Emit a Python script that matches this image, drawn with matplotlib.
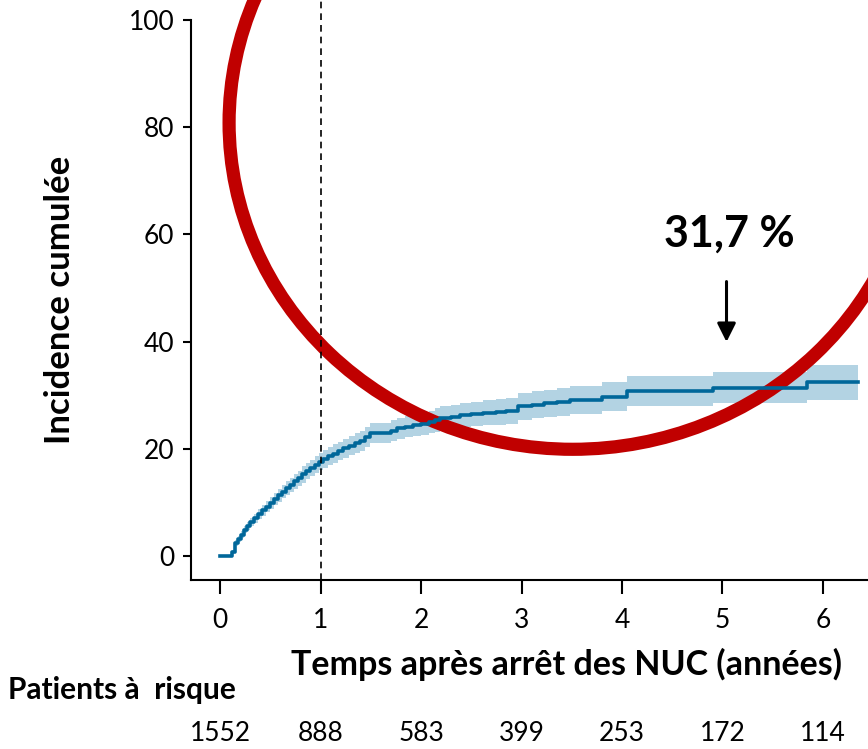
import matplotlib.pyplot as plt
from matplotlib.patches import Ellipse

plt.rcParams['font.family'] = ['Lato', 'DejaVu Sans']

# courbe d'incidence cumulée
temps = [0, 0.12, 0.15, 0.18, 0.21, 0.24, 0.27, 0.30, 0.34, 0.38,
         0.42, 0.46, 0.50, 0.54, 0.58, 0.62, 0.66, 0.70, 0.74, 0.78,
         0.82, 0.86, 0.90, 0.94, 0.98, 1.02, 1.07, 1.12, 1.17, 1.22,
         1.28, 1.34, 1.39, 1.44, 1.49, 1.66, 1.70, 1.76, 1.84, 1.92,
         2.00, 2.08, 2.14, 2.19, 2.30, 2.39, 2.50, 2.62, 2.75, 2.85,
         2.97, 3.10, 3.22, 3.35, 3.48, 3.80, 4.05, 4.91, 5.84, 6.35]
incidence = [0, 0.8, 2.4, 3.2, 4.0, 4.9, 5.6, 6.3, 7.0, 7.8,
             8.5, 9.2, 9.9, 10.6, 11.3, 12.0, 12.7, 13.3, 13.9, 14.5,
             15.2, 15.8, 16.4, 17.0, 17.6, 18.1, 18.6, 19.1, 19.6, 20.1,
             20.6, 21.1, 21.5, 22.2, 22.9, 22.9, 23.4, 23.8, 24.1, 24.4,
             24.6, 25.0, 25.4, 25.7, 26.0, 26.3, 26.5, 26.7, 26.9, 27.1,
             27.9, 28.2, 28.5, 28.8, 29.1, 29.7, 30.7, 31.3, 32.4, 32.4]
borne_inf = [0, 0.5, 1.9, 2.6, 3.3, 4.2, 4.8, 5.5, 6.1, 6.9,
             7.5, 8.2, 8.8, 9.5, 10.1, 10.8, 11.4, 12.0, 12.5, 13.1,
             13.7, 14.3, 14.9, 15.4, 16.0, 16.5, 16.9, 17.4, 17.9, 18.3,
             18.8, 19.3, 19.6, 20.3, 21.0, 21.0, 21.4, 21.8, 22.1, 22.3,
             22.5, 22.9, 23.2, 23.5, 23.8, 24.0, 24.2, 24.4, 24.5, 24.7,
             25.4, 25.7, 26.0, 26.2, 26.5, 27.0, 27.9, 28.5, 29.1, 29.1]
borne_sup = [0, 1.1, 2.9, 3.8, 4.7, 5.6, 6.4, 7.1, 7.9, 8.7,
             9.5, 10.2, 11.0, 11.7, 12.5, 13.2, 14.0, 14.6, 15.3, 15.9,
             16.7, 17.3, 17.9, 18.6, 19.2, 19.7, 20.3, 20.8, 21.3, 21.9,
             22.4, 22.9, 23.4, 24.1, 24.8, 24.8, 25.4, 25.8, 26.1, 26.5,
             26.7, 27.1, 27.6, 27.9, 28.2, 28.6, 28.8, 29.0, 29.3, 29.5,
             30.4, 30.7, 31.0, 31.4, 31.7, 32.4, 33.5, 34.3, 35.7, 35.7]

annees = [0, 1, 2, 3, 4, 5, 6]
patients_risque = [1552, 888, 583, 399, 253, 172, 114]

fig = plt.figure(figsize=(8.68, 7.49), dpi=100)
ax = fig.add_axes([191 / 868, 1 - 580 / 749, 677 / 868, 580 / 749])

ax.fill_between(temps, borne_inf, borne_sup, step='post', color='#b3d3e3', linewidth=0)
ax.step(temps, incidence, where='post', color='#00679a', linewidth=2.6)

ax.axvline(1, color='black', linestyle='--', linewidth=1.2, dashes=(4, 3))

ax.set_xlim(-0.289, 6.448)
ax.set_ylim(-4.48, 103.7)
ax.spines['top'].set_visible(False)
ax.spines['right'].set_visible(False)
ax.spines['left'].set_bounds(-4.48, 100)
ax.spines['left'].set_linewidth(1.5)
ax.spines['bottom'].set_linewidth(1.5)

ax.set_xticks(annees)
ax.set_yticks([0, 20, 40, 60, 80, 100])
ax.tick_params(axis='x', length=10, width=1.5, pad=10, labelsize=19)
ax.tick_params(axis='y', length=6, width=1.5, pad=6, labelsize=19)

ax.set_ylabel('Incidence cumulée', fontsize=25, fontweight='bold', labelpad=38)
ax.set_xlabel('Temps après arrêt des NUC (années)', fontsize=24.5, fontweight='bold', labelpad=11)
ax.yaxis.label.set_y(0.483)
ax.xaxis.label.set_x(0.555)

# annotation
ax.text(5.065, 60.1, '31,7 %', fontsize=31, fontweight='bold', ha='center', va='center')
ax.annotate('', xy=(5.04, 39.4), xytext=(5.04, 51.7),
            arrowprops=dict(arrowstyle='-|>,head_length=0.8,head_width=0.4',
                            color='black', lw=2.2, mutation_scale=14))

# cercle rouge
cercle = Ellipse((3.51, 80.8), width=2 * 3.42, height=2 * 60.9, fill=False,
                 edgecolor='#c00000', linewidth=9.5, clip_on=False)
ax.add_patch(cercle)

# patients à risque
fig.text(8 / 868, 1 - 690 / 749, 'Patients à  risque', fontsize=21.5, fontweight='bold',
         ha='left', va='center')
for a, n in zip(annees, patients_risque):
    ax.text(a, -4.48 - (733 - 580) / 5.36, str(n), fontsize=19, ha='center', va='center',
            clip_on=False)

fig.savefig('out.png', dpi=100)
